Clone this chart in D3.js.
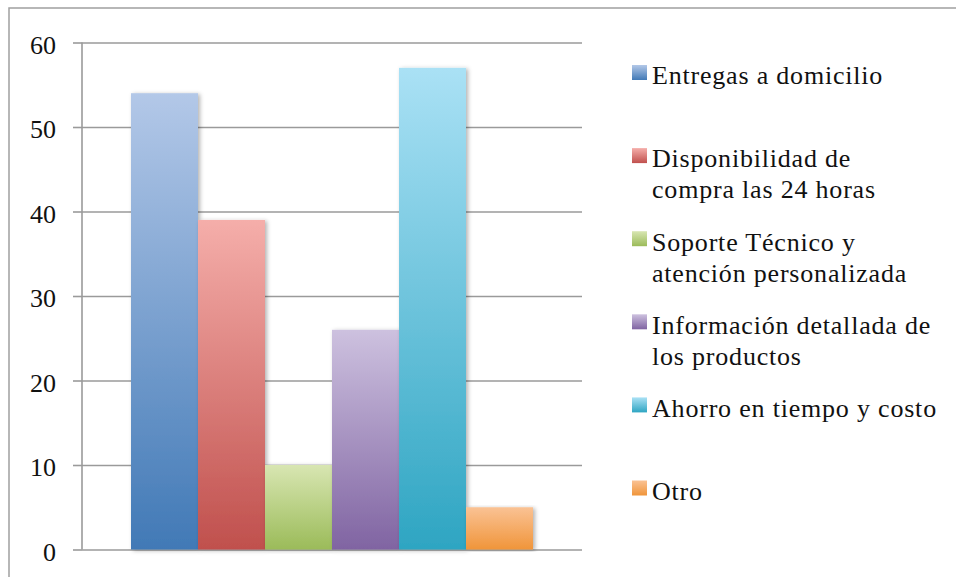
<!DOCTYPE html>
<html>
<head>
<meta charset="utf-8">
<script src="https://cdn.jsdelivr.net/npm/d3@7"></script>
<style>
  html, body { margin: 0; padding: 0; background: #fff; }
  svg { display: block; }
  text { font-family: "Liberation Serif", "DejaVu Serif", serif; fill: #111; }
</style>
</head>
<body>
<svg id="chart" width="956" height="577"></svg>
<script>
// Series (one bar per response option)
const categories = [
  "Entregas a domicilio",
  "Disponibilidad de compra las 24 horas",
  "Soporte Técnico y atención personalizada",
  "Información detallada de los productos",
  "Ahorro en tiempo y costo",
  "Otro"
];
const values = [54, 39, 10, 26, 57, 5];
// Legend text broken into lines
const legendLines = [
  ["Entregas a domicilio"],
  ["Disponibilidad de", "compra las 24 horas"],
  ["Soporte Técnico y", "atención personalizada"],
  ["Información detallada de", "los productos"],
  ["Ahorro en tiempo y costo"],
  ["Otro"]
];
const yTicks = [0, 10, 20, 30, 40, 50, 60];
// Gradient stops per series: [light top, dark bottom]
const colorsTop = ["#B3C8E8", "#F5AEAA", "#D8E6B2", "#CDC1DF", "#AAE1F5", "#FAC294"];
const colorsBottom = ["#4179B6", "#C0504D", "#9BBB59", "#8064A2", "#2EA5C2", "#F0953A"];

const svg = d3.select("#chart");
const defs = svg.append("defs");

colorsTop.forEach((c, i) => {
  const g = defs.append("linearGradient")
    .attr("id", "grad" + i).attr("x1", 0).attr("y1", 0).attr("x2", 0).attr("y2", 1);
  g.append("stop").attr("offset", "0%").attr("stop-color", c);
  g.append("stop").attr("offset", "100%").attr("stop-color", colorsBottom[i]);
});

const shadow = defs.append("filter").attr("id", "shadow")
  .attr("x", "-20%").attr("y", "-5%").attr("width", "140%").attr("height", "110%");
shadow.append("feDropShadow").attr("dx", 2).attr("dy", 1).attr("stdDeviation", 2)
  .attr("flood-color", "#000").attr("flood-opacity", 0.3);

// Outer frame
svg.append("rect").attr("x", 9).attr("y", 8).attr("width", 1000).attr("height", 700)
  .attr("fill", "none").attr("stroke", "#a0a0a0").attr("stroke-width", 1.5);

const plotLeft = 82, plotRight = 582, plotTop = 42.5, plotBottom = 549.5;

const y = d3.scaleLinear().domain([0, 60]).range([plotBottom, plotTop]);
const x = d3.scaleBand().domain(categories).range([131, 533]).padding(0);

// Gridlines + ticks
const yAxis = d3.axisLeft(y).tickValues(yTicks).tickSize(-(plotRight - plotLeft)).tickPadding(0).tickFormat("");
const ga = svg.append("g").attr("transform", `translate(${plotLeft},0)`).call(yAxis);
ga.select(".domain").remove();
ga.selectAll(".tick line").attr("stroke", "#9a9a9a").attr("stroke-width", 1.6);
ga.selectAll(".tick").append("line").attr("x1", -9).attr("x2", 0)
  .attr("stroke", "#9a9a9a").attr("stroke-width", 1.6);
ga.selectAll(".tick").append("text")
  .attr("x", -26).attr("dy", 10.5)
  .attr("text-anchor", "end").attr("font-size", 26).attr("fill", "#111")
  .attr("font-family", "'Liberation Serif', 'DejaVu Serif', serif")
  .text(d => d);

// Vertical axis line
svg.append("line").attr("x1", plotLeft).attr("x2", plotLeft)
  .attr("y1", plotTop).attr("y2", plotBottom)
  .attr("stroke", "#9a9a9a").attr("stroke-width", 1.6);

// Bars
svg.append("g").selectAll("rect").data(values).join("rect")
  .attr("x", (d, i) => x(categories[i]))
  .attr("width", x.bandwidth())
  .attr("y", d => y(d))
  .attr("height", d => y(0) - y(d))
  .attr("fill", (d, i) => `url(#grad${i})`)
  .attr("filter", "url(#shadow)");

// Legend
const legend = svg.append("g");
const entryTop = 84.3, entryStep = 83.1, lineH = 31;
legendLines.forEach((lines, i) => {
  const base = entryTop + i * entryStep;
  legend.append("rect").attr("x", 632).attr("y", base - 19.3).attr("width", 15).attr("height", 15)
    .attr("fill", `url(#grad${i})`);
  const t = legend.append("text").attr("x", 652).attr("y", base)
    .attr("font-size", 26).attr("letter-spacing", 0.8)
    .attr("font-family", "'Liberation Serif', 'DejaVu Serif', serif");
  lines.forEach((ln, j) => {
    t.append("tspan").attr("x", 652).attr("y", base + j * lineH).text(ln);
  });
});
</script>
</body>
</html>
